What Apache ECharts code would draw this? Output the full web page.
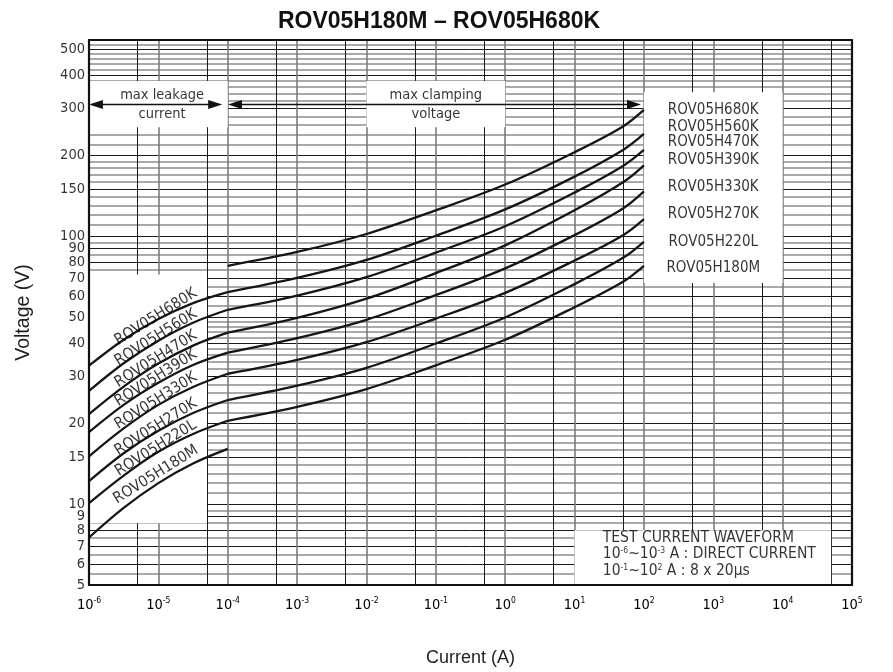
<!DOCTYPE html>
<html><head><meta charset="utf-8">
<script src="https://cdn.jsdelivr.net/npm/echarts@6/dist/echarts.min.js"></script>
<style>html,body{margin:0;padding:0;background:#fff}#c{width:893px;height:672px}</style>
</head><body><div id="c"></div>
<script>
// ---------------- data ----------------
const models = ['ROV05H680K','ROV05H560K','ROV05H470K','ROV05H390K','ROV05H330K','ROV05H270K','ROV05H220L','ROV05H180M'];
const leakCurrent = [1e-6, 3.16e-6, 1e-5, 3.16e-5, 1e-4];
const clampCurrent = [1e-4, 1e-3, 1e-2, 1e-1, 1, 10, 50, 100];
const leak680K = [32.9, 41.1, 49.1, 56.3, 61.9];
const leak560K = [26.5, 33.6, 40.8, 47.6, 53.2];
const leak470K = [21.7, 27.5, 33.5, 39.1, 43.7];
const leak390K = [18.6, 23.5, 28.4, 33.1, 36.8];
const leak330K = [15.1, 19.2, 23.5, 27.4, 30.7];
const leak270K = [12.2, 15.5, 18.8, 21.9, 24.5];
const leak220L = [10.1, 12.8, 15.7, 18.3, 20.5];
const leak180M = [7.52, 9.7, 12.0, 14.2, 16.1];
const clamp680K = [77.6, 87.4, 102, 125, 156, 206, 257, 296];
const clamp560K = [61.9, 69.9, 81.6, 100.5, 126, 167, 210, 241];
const clamp470K = [53.2, 60.1, 70.4, 86.9, 109, 145.5, 183, 210];
const clamp390K = [43.7, 49.6, 58.5, 72.9, 92.5, 125, 159, 184];
const clamp330K = [36.8, 41.7, 48.8, 60.3, 75.9, 101, 127, 147];
const clamp270K = [30.7, 34.6, 40.3, 49.3, 61.5, 81.2, 101, 116];
const clamp220L = [24.5, 27.7, 32.3, 39.8, 49.8, 66.3, 83.1, 95.4];
const clamp180M = [20.5, 23.1, 26.9, 33.0, 41.1, 54.4, 67.7, 77.6];
const yTickLabels = [5,6,7,8,9,10,15,20,30,40,50,60,70,80,90,100,150,200,300,400,500];
const yMinorGrid = [5.5,6.5,7.5,8.5,9.5,11,12,13,14,16,17,18,19,22,24,26,28,32,34,36,38,42,44,46,48,55,65,75,85,95,110,120,130,140,160,170,180,190,220,240,260,280,320,340,360,380,420,440,460,480,520];
const xDecades = [1e-6,1e-5,1e-4,1e-3,1e-2,1e-1,1,10,100,1e3,1e4,1e5];
const xHalfDecades = [5e-6,5e-5,5e-4,5e-3,5e-2,5e-1,5,50,500,5e3,5e4];

// ---------------- build ----------------
const leaks = [leak680K, leak560K, leak470K, leak390K, leak330K, leak270K, leak220L, leak180M];
const clamps = [clamp680K, clamp560K, clamp470K, clamp390K, clamp330K, clamp270K, clamp220L, clamp180M];
const NARROW = "'Liberation Sans Narrow','Arial Narrow','DejaVu Sans Condensed',sans-serif";
const REG = "'Liberation Sans',Arial,sans-serif";
const TXT = '#000';

const chart = echarts.init(document.getElementById('c'));

const gridLines = [];
yTickLabels.slice(1).forEach(v => gridLines.push({yAxis: v, lineStyle: {color: '#1a1a1a', width: 1, type: 'solid'}}));
yMinorGrid.forEach(v => gridLines.push({yAxis: v, lineStyle: {color: '#8c8c8c', width: 1.5, type: 'solid'}}));
xDecades.slice(1, -1).forEach(v => gridLines.push({xAxis: v, lineStyle: {color: '#7c7c7c', width: 1.6, type: 'solid'}}));
xHalfDecades.forEach(v => gridLines.push({xAxis: v, lineStyle: {color: '#1a1a1a', width: 1, type: 'solid'}}));

const series = [];
series.push({
  type: 'line', data: [], silent: true, z: 1,
  markLine: {silent: true, symbol: 'none', precision: 12, z: 1, animation: false, label: {show: false}, data: gridLines}
});
series.push({
  type: 'line', data: [], silent: true, z: 2,
  markArea: {silent: true, z: 2, precision: 12, animation: false, itemStyle: {color: '#fff', opacity: 1},
    data: [
      [{coord: [1e-6, 72]}, {coord: [5e-5, 8.5]}],
      [{coord: [1e-6, 380]}, {coord: [1e-4, 255]}],
      [{coord: [1e-2, 380]}, {coord: [1, 255]}],
      [{coord: [100, 345]}, {coord: [1e4, 67]}],
      [{coord: [10, 8]}, {coord: [5e4, 5]}]
    ]}
});
models.forEach((m, i) => {
  const ls = {color: '#161616', width: 2.3};
  series.push({name: m + ' leak', type: 'line', z: 3, smooth: 0.35, showSymbol: false, silent: true,
    lineStyle: ls, data: leakCurrent.map((x, j) => [x, leaks[i][j]])});
  series.push({name: m, type: 'line', z: 3, smooth: 0.35, showSymbol: false, silent: true,
    lineStyle: ls, data: clampCurrent.map((x, j) => [x, clamps[i][j]])});
});
// arrows (max leakage current / max clamping voltage ranges)
series.push({
  type: 'line', data: [], silent: true, z: 4,
  markLine: {silent: true, z: 4, precision: 12, animation: false, symbol: ['triangle', 'triangle'], symbolSize: [9, 14],
    label: {show: false}, lineStyle: {color: '#111', width: 1.3, type: 'solid'},
    data: [
      [{coord: [1.26e-6, 310]}, {coord: [6.6e-5, 310]}],
      [{coord: [1.27e-4, 310]}, {coord: [72, 310]}]
    ]}
});
// text annotations placed through the scales
const rightLabelVolt = [296, 255, 224.5, 192, 152, 121, 95.4, 75.9];
const leftLabelVolt = [50.0, 41.9, 34.8, 29.6, 24.3, 19.4, 16.2, 12.9];
const textBase = {type: 'scatter', symbolSize: 2, silent: true, clip: false, z: 5, itemStyle: {color: 'rgba(0,0,0,0)'}};
series.push(Object.assign({}, textBase, {
  label: {show: true, position: 'inside', formatter: p => p.name, color: TXT, fontFamily: NARROW, fontSize: 15},
  data: models.map((m, i) => ({name: m, value: [1e3, rightLabelVolt[i]]}))
}));
series.push(Object.assign({}, textBase, {
  label: {show: true, position: 'inside', rotate: 32, formatter: p => p.name, color: TXT, fontFamily: NARROW, fontSize: 15.5},
  data: models.map((m, i) => ({name: m, value: [9.2e-6, leftLabelVolt[i]]}))
}));
series.push(Object.assign({}, textBase, {
  label: {show: true, position: 'inside', formatter: p => p.name, color: TXT, fontFamily: NARROW, fontSize: 14.5, lineHeight: 19},
  data: [
    {name: 'max leakage\ncurrent', value: [1.13e-5, 310]},
    {name: 'max clamping\nvoltage', value: [1e-1, 310]}
  ]
}));
series.push(Object.assign({}, textBase, {
  label: {show: true, position: 'left', distance: 3, formatter: p => p.name, color: TXT, fontFamily: NARROW, fontSize: 14.5},
  data: yTickLabels.map(v => ({name: String(v), value: [1e-6, v]}))
}));
series.push(Object.assign({}, textBase, {
  label: {show: true, position: 'right', distance: 0, align: 'left', color: TXT,
    formatter: '{t|TEST CURRENT WAVEFORM}\n{t|10}{s|-6}{t|~10}{s|-3}{t| A : DIRECT CURRENT}\n{t|10}{s|-1}{t|~10}{s|2}{t| A : 8 x 20μs}',
    rich: {
      t: {fontFamily: NARROW, fontSize: 15.5, lineHeight: 16.7, color: TXT},
      s: {fontFamily: NARROW, fontSize: 8.5, verticalAlign: 'top', color: TXT}
    }},
  data: [{name: 'note', value: [24.7, 6.5]}]
}));

const axisLineStyle = {color: '#111', width: 2.2};
chart.setOption({
  animation: false,
  backgroundColor: '#fff',
  title: {text: 'ROV05H180M – ROV05H680K', left: 434, top: 5, textAlign: 'center',
    textStyle: {fontFamily: REG, fontWeight: 'bold', fontSize: 23, color: '#111'}},
  grid: {left: 89, right: 41, top: 40, bottom: 81, containLabel: false},
  xAxis: [
    {type: 'log', logBase: 10, min: 1e-6, max: 1e5, interval: 1, splitNumber: 11, z: 10,
      name: 'Current (A)', nameLocation: 'middle', nameGap: 64,
      nameTextStyle: {fontFamily: REG, fontSize: 18, color: '#1e1e1e'},
      axisLine: {show: true, lineStyle: axisLineStyle}, axisTick: {show: false}, splitLine: {show: false},
      axisLabel: {margin: 11, color: TXT, interval: 0, showMinLabel: true, showMaxLabel: true, hideOverlap: false,
        formatter: v => '{b|10}{s|' + Math.round(Math.log10(v)) + '}',
        rich: {b: {fontFamily: NARROW, fontSize: 14.5, lineHeight: 18, color: TXT},
               s: {fontFamily: NARROW, fontSize: 8.5, verticalAlign: 'top', color: TXT}}}},
    {type: 'log', logBase: 10, min: 1e-6, max: 1e5, position: 'top', z: 10,
      axisLine: {show: true, lineStyle: axisLineStyle}, axisTick: {show: false}, axisLabel: {show: false}, splitLine: {show: false}}
  ],
  yAxis: [
    {type: 'log', logBase: 10, min: 5, max: 540, z: 10,
      name: 'Voltage (V)', nameLocation: 'middle', nameGap: 55,
      nameTextStyle: {fontFamily: REG, fontSize: 19.5, color: '#1e1e1e'},
      axisLine: {show: true, lineStyle: axisLineStyle}, axisTick: {show: false}, axisLabel: {show: false}, splitLine: {show: false}},
    {type: 'log', logBase: 10, min: 5, max: 540, position: 'right', z: 10,
      axisLine: {show: true, lineStyle: axisLineStyle}, axisTick: {show: false}, axisLabel: {show: false}, splitLine: {show: false}}
  ],
  series: series
});
</script></body></html>
